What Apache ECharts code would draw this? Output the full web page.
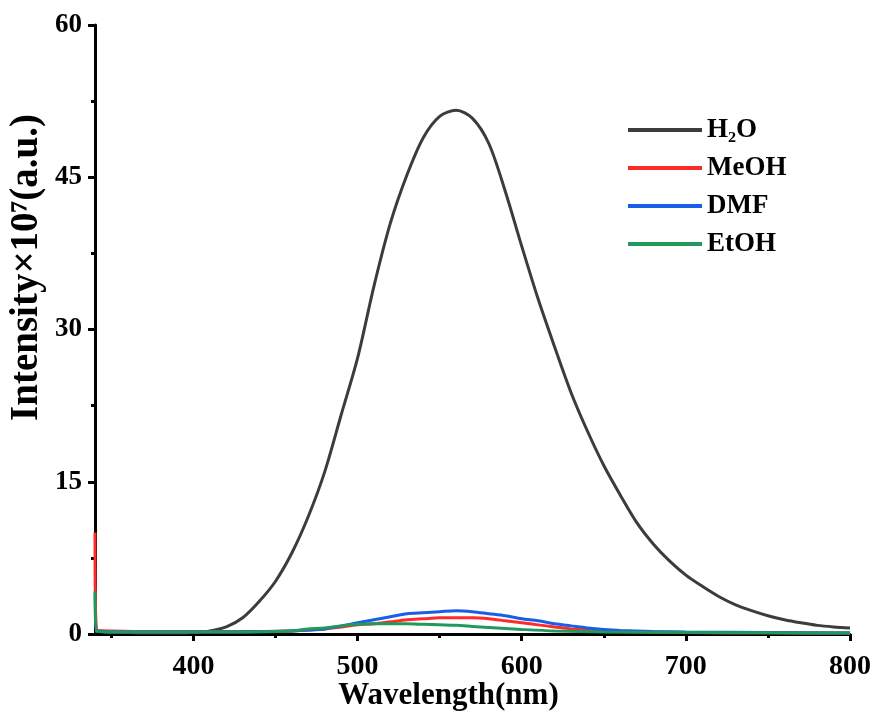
<!DOCTYPE html>
<html>
<head>
<meta charset="utf-8">
<script src="https://cdn.jsdelivr.net/npm/echarts@6/dist/echarts.min.js"></script>
<style>html,body{margin:0;padding:0;background:#fff}#c{width:877px;height:713px}</style>
</head>
<body>
<div id="c"></div>
<script>
const seriesNames = ['H\u2082O', 'MeOH', 'DMF', 'EtOH'];
const colors = ['#3c3c3c', '#ff2a2a', '#1a5ee6', '#1f9a5c'];
const xMajorTicks = [400, 500, 600, 700, 800];
const xMinorTicks = [350, 450, 550, 650, 750];

const h2oX = [340,350,360,370,380,390,400,410,420,430,440,450,460,470,480,490,500,510,520,530,540,550,560,570,580,590,600,610,620,630,640,650,660,670,680,690,700,710,720,730,740,750,760,770,780,790,800];
const h2oY = [0.3,0.2,0.15,0.1,0.1,0.1,0.15,0.3,0.7,1.6,3.2,5.2,8.0,11.6,16.0,21.6,27.2,34.3,40.5,45.2,48.9,51.0,51.6,50.8,48.3,43.6,38.2,33.0,28.3,23.8,20.0,16.6,13.7,11.0,8.9,7.2,5.8,4.7,3.7,2.9,2.3,1.8,1.4,1.1,0.85,0.7,0.6];

const meohX = [340,341,350,380,420,460,470,480,490,500,510,520,530,540,550,560,570,580,590,600,610,620,630,640,650,660,680,700,750,800];
const meohY = [10.0,0.4,0.3,0.25,0.25,0.3,0.4,0.5,0.7,0.9,1.0,1.2,1.4,1.5,1.6,1.6,1.6,1.5,1.3,1.1,0.9,0.7,0.5,0.4,0.3,0.25,0.2,0.15,0.12,0.1];

const dmfX = [340,350,380,420,460,470,480,490,500,510,520,530,540,550,560,570,580,590,600,610,620,630,640,650,660,680,700,750,800];
const dmfY = [0.3,0.2,0.2,0.2,0.3,0.4,0.5,0.8,1.1,1.4,1.7,2.0,2.1,2.2,2.3,2.2,2.0,1.8,1.5,1.3,1.0,0.8,0.6,0.45,0.35,0.25,0.2,0.15,0.1];

const etohX = [340,341,350,380,420,460,470,480,490,500,510,520,530,540,550,560,570,580,590,600,620,650,700,750,800];
const etohY = [4.2,0.3,0.2,0.2,0.2,0.3,0.5,0.6,0.8,0.95,1.0,1.0,1.0,0.95,0.9,0.85,0.75,0.65,0.55,0.45,0.3,0.2,0.15,0.12,0.1];

const xs = [h2oX, meohX, dmfX, etohX];
const ys = [h2oY, meohY, dmfY, etohY];

const font = 'Liberation Serif';
const chart = echarts.init(document.getElementById('c'));
chart.setOption({
  animation: false,
  backgroundColor: '#fff',
  grid: { left: 95, right: 27, top: 25, bottom: 79, containLabel: false, outerBoundsMode: 'none' },
  legend: {
    orient: 'vertical', left: 623, top: 111,
    icon: 'rect', itemWidth: 74, itemHeight: 4, itemGap: 10,
    textStyle: { fontFamily: font, fontWeight: 'bold', fontSize: 27, color: '#000', lineHeight: 28 },
    data: seriesNames
  },
  xAxis: [{
    type: 'value', min: 340, max: 800,
    name: 'Wavelength(nm)', nameLocation: 'middle', nameGap: 46, nameMoveOverlap: false,
    nameTextStyle: { fontFamily: font, fontWeight: 'bold', fontSize: 31, color: '#000', padding: [0, 48, 0, 0] },
    axisLine: { show: true, onZero: false, lineStyle: { color: '#000', width: 3 } },
    axisTick: { show: true, inside: false, length: 7, lineStyle: { color: '#000', width: 3 }, customValues: xMajorTicks },
    axisLabel: { fontFamily: font, fontWeight: 'bold', fontSize: 28, color: '#000', margin: 19, customValues: xMajorTicks },
    splitLine: { show: false }
  }, {
    type: 'value', min: 340, max: 800, position: 'bottom',
    axisLine: { show: false },
    axisTick: { show: true, inside: false, length: 4, lineStyle: { color: '#000', width: 3 }, customValues: xMinorTicks },
    axisLabel: { show: false, customValues: xMinorTicks },
    splitLine: { show: false }
  }],
  yAxis: {
    type: 'value', min: 0, max: 60, interval: 15,
    name: 'Intensity\u00d710\u2077(a.u.)', nameLocation: 'middle', nameGap: 49, nameMoveOverlap: false,
    nameTextStyle: { fontFamily: font, fontWeight: 'bold', fontSize: 39, color: '#000', padding: [0, 0, 0, 124] },
    axisLine: { show: true, lineStyle: { color: '#000', width: 3 } },
    axisTick: { show: true, inside: false, length: 7, lineStyle: { color: '#000', width: 3 } },
    minorTick: { show: true, splitNumber: 2, length: 4, lineStyle: { color: '#000', width: 3 } },
    axisLabel: { fontFamily: font, fontWeight: 'bold', fontSize: 27, color: '#000', margin: 13 },
    splitLine: { show: false }
  },
  series: seriesNames.map((n, i) => ({
    name: n, type: 'line', xAxisIndex: 0,
    data: xs[i].map((x, j) => [x, ys[i][j]]),
    showSymbol: false, symbol: 'none',
    smooth: 0.3,
    lineStyle: { color: colors[i], width: 3 },
    itemStyle: { color: colors[i] },
    z: 2 + i
  }))
});
</script>
</body>
</html>
